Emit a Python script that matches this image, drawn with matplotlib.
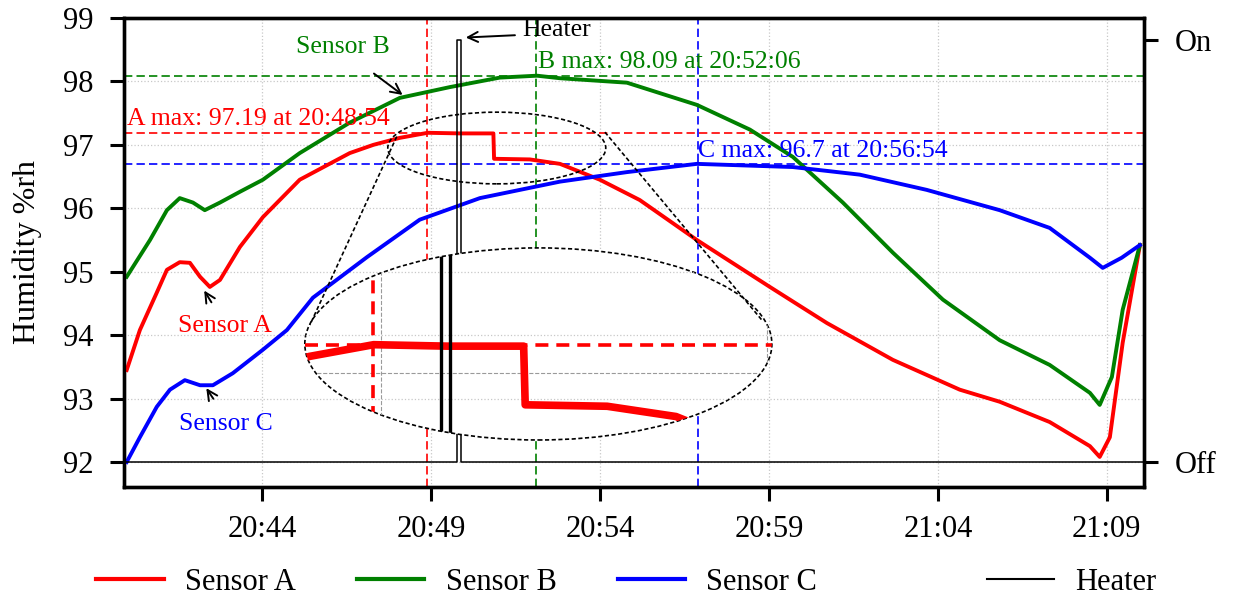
import matplotlib
matplotlib.use("Agg")
import matplotlib.pyplot as plt
from matplotlib.patches import Ellipse
from matplotlib.lines import Line2D
from matplotlib.transforms import blended_transform_factory

plt.rcParams['font.family'] = ['Liberation Serif', 'DejaVu Serif']

# ---- data (time in minutes after 20:00) ----
a_t = [40.0, 40.39, 40.89, 41.19, 41.57, 41.87, 42.17, 42.46, 42.76, 43.35, 44.03, 45.12,
       46.60, 47.30, 48.08, 48.91, 49.86, 50.85, 50.87, 51.93, 52.82, 54.0, 55.18, 56.87,
       59.03, 60.72, 62.67, 64.65, 65.83, 67.31, 68.50, 68.79, 69.09, 69.47, 69.98]
a_h = [93.45, 94.08, 94.67, 95.03, 95.15, 95.14, 94.92, 94.76, 94.87, 95.39, 95.86, 96.45,
       96.87, 97.00, 97.11, 97.19, 97.18, 97.18, 96.78, 96.77, 96.70, 96.45, 96.13, 95.50,
       94.76, 94.19, 93.61, 93.14, 92.95, 92.63, 92.25, 92.08, 92.39, 93.88, 95.42]

b_t = [40.0, 40.69, 41.19, 41.57, 41.96, 42.31, 42.76, 43.35, 44.03, 45.12, 46.60, 48.08,
       49.56, 51.04, 52.14, 52.82, 54.80, 56.87, 58.44, 59.71, 61.19, 62.67, 64.15, 65.83,
       67.31, 68.50, 68.79, 69.15, 69.47, 69.98]
b_h = [94.92, 95.50, 95.97, 96.16, 96.09, 95.97, 96.09, 96.26, 96.45, 96.87, 97.35, 97.74,
       97.91, 98.06, 98.09, 98.05, 97.98, 97.63, 97.24, 96.81, 96.09, 95.30, 94.56, 93.92,
       93.53, 93.09, 92.90, 93.34, 94.40, 95.42]

c_t = [40.0, 40.39, 40.89, 41.28, 41.72, 42.17, 42.55, 43.14, 44.03, 44.74, 45.51, 47.11,
       48.67, 50.45, 52.82, 54.80, 56.87, 59.71, 61.69, 63.67, 65.83, 67.31, 68.50, 68.88,
       69.44, 69.98]
c_h = [92.00, 92.39, 92.87, 93.14, 93.29, 93.21, 93.21, 93.40, 93.77, 94.08, 94.59, 95.23,
       95.82, 96.16, 96.42, 96.57, 96.70, 96.65, 96.53, 96.29, 95.97, 95.69, 95.22, 95.06,
       95.22, 95.42]

heater_t = [39.9, 49.78, 49.78, 49.90, 49.90, 70.1]
heater_state = [0, 0, 1, 1, 0, 0]

a_max_t, a_max_v, a_max_lbl = 48.90, 97.19, "20:48:54"
b_max_t, b_max_v, b_max_lbl = 52.10, 98.09, "20:52:06"
c_max_t, c_max_v, c_max_lbl = 56.90, 96.70, "20:56:54"

xtick_pos = [44, 49, 54, 59, 64, 69]
xtick_lbl = ["20:44", "20:49", "20:54", "20:59", "21:04", "21:09"]
ytick_pos = [92, 93, 94, 95, 96, 97, 98, 99]

RED, GREEN, BLUE = '#ff0000', '#008000', '#0000ff'

fig = plt.figure(figsize=(12.35, 5.99), dpi=100)
ax = fig.add_axes([0.1004, 0.187, 0.8259, 0.783])
ax.set_xlim(39.92, 70.1)
ax.set_ylim(91.606, 99.0)
ax2 = ax.twinx()
ax2.set_ylim(-0.059, 1.052)

ax.grid(True, color='#c8c8c8', linestyle=':', linewidth=0.9)
ax.set_axisbelow(True)

lw_s = 2.8
ax.plot(a_t, a_h, color=RED, lw=lw_s, zorder=3)
ax.plot(b_t, b_h, color=GREEN, lw=lw_s, zorder=3)
ax.plot(c_t, c_h, color=BLUE, lw=lw_s, zorder=3)

htrans = blended_transform_factory(ax.transData, ax2.transData)
ax.plot(heater_t, heater_state, color='black', lw=1.1, transform=htrans, zorder=3)

dash = (0, (5, 2.5))
for (mt, mv, col) in [(a_max_t, a_max_v, RED), (b_max_t, b_max_v, GREEN), (c_max_t, c_max_v, BLUE)]:
    ax.axhline(mv, color=col, lw=1.2, linestyle=dash, zorder=2)
    ax.axvline(mt, color=col, lw=1.2, linestyle=dash, zorder=2)

fs_ann = 18.5
ax.text(40.0, a_max_v + 0.04, f"A max: {a_max_v:.2f} at {a_max_lbl}", color=RED,
        fontsize=fs_ann, ha='left', va='bottom')
ax.text(b_max_t + 0.07, b_max_v + 0.04, f"B max: {b_max_v:.2f} at {b_max_lbl}", color=GREEN,
        fontsize=fs_ann, ha='left', va='bottom')
ax.text(c_max_t, c_max_v + 0.03, f"C max: {c_max_v:g} at {c_max_lbl}", color=BLUE,
        fontsize=fs_ann, ha='left', va='bottom')

arw = dict(arrowstyle='->', color='black', lw=1.4, mutation_scale=18)
ax.text(46.4, 98.55, "Sensor B", color=GREEN, fontsize=fs_ann, ha='center', va='center')
ax.annotate('', xy=(48.23, 97.76), xytext=(47.25, 98.15), arrowprops=arw)
ax.text(42.9, 94.15, "Sensor A", color=RED, fontsize=fs_ann, ha='center', va='center')
ax.annotate('', xy=(42.25, 94.74), xytext=(42.55, 94.48), arrowprops=arw)
ax.text(42.93, 92.6, "Sensor C", color=BLUE, fontsize=fs_ann, ha='center', va='center')
ax.annotate('', xy=(42.31, 93.2), xytext=(42.61, 92.96), arrowprops=arw)
ax.text(51.69, 98.81, "Heater", color='black', fontsize=fs_ann, ha='left', va='center')
ax.annotate('', xy=(49.95, 98.69), xytext=(51.57, 98.73), arrowprops=arw)

# small ellipse and connectors
small = Ellipse((50.95, 96.95), 6.45, 1.13, fill=False, edgecolor='black',
                linestyle=(0, (2.5, 1.5)), lw=1.2, zorder=6)
ax.add_patch(small)
ax.plot([47.99, 45.42], [97.13, 94.16], color='black', linestyle=(0, (2.5, 1.5)), lw=1.2, zorder=6)
ax.plot([54.15, 58.79], [97.20, 94.24], color='black', linestyle=(0, (2.5, 1.5)), lw=1.2, zorder=6)

# inset (elliptical)
axin = ax.inset_axes([45.27, 92.347, 59.09 - 45.27, 95.375 - 92.347], transform=ax.transData)
axin.set_xlim(48.02, 54.06)
axin.set_ylim(96.54, 97.85)
axin.patch.set_visible(False)
for s in axin.spines.values():
    s.set_visible(False)
axin.set_xticks([])
axin.set_yticks([])
big = Ellipse((0.5, 0.5), 1, 1, transform=axin.transAxes, facecolor='white', edgecolor='black',
              linestyle=(0, (2.5, 1.5)), lw=1.2, zorder=0, clip_on=False)
axin.add_patch(big)
arts = []
gtrans = blended_transform_factory(axin.transAxes, ax.transData)
for gy in [93, 94, 95]:
    arts += axin.plot([0, 1], [gy, gy], transform=gtrans, color='#c8c8c8', ls=':', lw=0.9, zorder=1)
for gx in [49, 54]:
    arts.append(axin.axvline(gx, color='#9a9a9a', ls='--', lw=0.8, zorder=1))
arts.append(axin.axhline(97, color='#9a9a9a', ls='--', lw=0.8, zorder=1))
arts.append(axin.axhline(a_max_v, color=RED, lw=2.6, linestyle=(0, (3.6, 2.2)), zorder=2))
arts.append(axin.axvline(a_max_t, color=RED, lw=2.6, linestyle=(0, (3.6, 2.2)), zorder=2))
arts += axin.plot(a_t, a_h, color=RED, lw=5.5, zorder=3)
itrans = blended_transform_factory(axin.transData, ax2.transData)
arts += axin.plot(heater_t, heater_state, color='black', lw=2.4, transform=itrans, zorder=4)
for a in arts:
    a.set_clip_path(big)

# axes styling
ax.set_xticks(xtick_pos)
ax.set_xticklabels(xtick_lbl)
ax.set_yticks(ytick_pos)
ax.tick_params(axis='x', direction='out', length=10, width=2.2, labelsize=22, pad=10)
ax.tick_params(axis='y', direction='out', length=10, width=2.2, labelsize=22, pad=12)
ax2.set_yticks([0, 1])
ax2.set_yticklabels(['Off', 'On'])
ax2.tick_params(axis='y', direction='out', length=10, width=2.2, labelsize=22, pad=12)
for sp in list(ax.spines.values()) + list(ax2.spines.values()):
    sp.set_linewidth(2.4)
ax.set_ylabel("Humidity %rh", fontsize=23)
ax.yaxis.set_label_coords(-0.08, 0.5)

# legends
h_s = [Line2D([], [], color=RED, lw=3), Line2D([], [], color=GREEN, lw=3), Line2D([], [], color=BLUE, lw=3)]
leg1 = fig.legend(h_s, ["Sensor A", "Sensor B", "Sensor C"], ncol=3, frameon=False, fontsize=22,
                  loc='center left', bbox_to_anchor=(0.078, 0.028), handlelength=2.2,
                  handletextpad=0.7, columnspacing=2.0, borderpad=0, borderaxespad=0)
leg2 = fig.legend([Line2D([], [], color='black', lw=1.5)], ["Heater"], frameon=False, fontsize=22,
                  loc='center left', bbox_to_anchor=(0.799, 0.028), handlelength=2.2,
                  handletextpad=0.7, borderpad=0, borderaxespad=0)

fig.savefig("out.png", dpi=100)
